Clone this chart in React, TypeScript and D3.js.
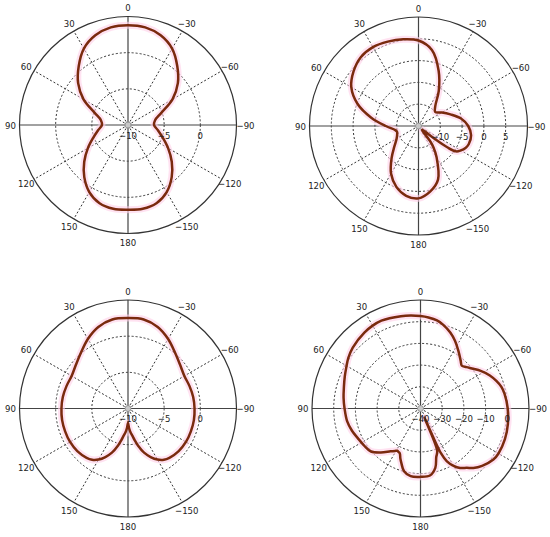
import React from 'react';
import * as d3 from 'd3';

// Angle tick labels (degrees, positive = counter-clockwise from top)
const angleTicks = [0, 30, 60, 90, 120, 150, 180, -150, -120, -90, -60, -30];

// Plot 1 (top-left)
const p1Angles = [-170, -160, -150, -140, -130, -120, -110, -100, -90, -80, -70, -60, -50, -40, -30, -20, -10, 0, 10, 20, 30, 40, 50, 60, 70, 80, 90, 100, 110, 120, 130, 140, 150, 160, 170, 180];
const p1Values = [1.75, 1.5, 0.7, -0.6, -2.1, -3.6, -4.9, -5.8, -6.4, -6.2, -5.1, -2.9, -1.0, 0.6, 2.2, 3.2, 3.7, 3.8, 3.7, 3.2, 2.2, 0.6, -1.0, -2.9, -5.1, -6.2, -6.4, -5.8, -4.9, -3.6, -2.1, -0.6, 0.7, 1.5, 1.75, 1.7];
const p1Rings = [-5, 0];
const p1RingLabels = [-10, -5, 0];

// Plot 2 (top-right)
const p2Angles = [-170, -160, -150, -145, -142.5, -141, -137, -132, -128.5, -126.5, -124, -120, -115, -110, -100, -90, -80, -70, -60, -50, -40, -30, -20, -10, 0, 10, 20, 30, 40, 50, 60, 70, 80, 90, 100, 105, 110, 120, 130, 140, 150, 160, 170, 180];
const p2Values = [0.3, -1.9, -6.7, -9.0, -10.6, -13.5, -13.8, -13.4, -10.5, -6.8, -4.6, -3.8, -3.1, -2.75, -2.75, -3.6, -5.1, -7.2, -8.8, -10.0, -9.0, -5.7, -1.5, 2.7, 4.6, 5.2, 5.6, 5.9, 5.6, 4.45, 2.8, -0.1, -4.0, -7.5, -9.6, -9.9, -9.8, -9.2, -7.8, -5.4, -2.4, -0.15, 1.25, 1.6];
const p2Rings = [-10, -5, 0, 5];
const p2RingLabels = [-10, -5, 0, 5];

// Plot 3 (bottom-left)
const p3Angles = [-177, -174, -171, -168, -165, -160, -155, -150, -145, -140, -130, -120, -110, -100, -90, -80, -70, -60, -50, -40, -30, -20, -10, 0, 10, 20, 30, 40, 50, 60, 70, 80, 90, 100, 110, 120, 130, 140, 145, 150, 155, 160, 165, 168, 171, 174, 177, 180];
const p3Values = [-7.3, -6.7, -6.2, -5.5, -4.7, -3.5, -2.6, -1.85, -1.35, -1.1, -0.85, -0.75, -0.75, -0.75, -0.8, -0.85, -0.95, -1.0, -0.6, 0.1, 1.1, 2.0, 2.5, 2.5, 2.5, 2.0, 1.1, 0.1, -0.6, -1.0, -0.95, -0.85, -0.8, -0.75, -0.75, -0.75, -0.85, -1.1, -1.35, -1.85, -2.6, -3.5, -4.7, -5.5, -6.2, -6.7, -7.3, -8.0];
const p3Rings = [-5, 0];
const p3RingLabels = [-10, -5, 0];

// Plot 4 (bottom-right)
const p4Angles = [-172, -166, -162, -158.5, -156.8, -155.5, -153.4, -150, -146.3, -142, -138.4, -133, -125, -120, -110, -100, -90, -80, -75, -70, -64.5, -58, -53, -48, -44, -40, -33.3, -27, -21.4, -15, -10.6, -5, 0, 6, 12, 24, 30, 36.5, 48, 55, 61, 67, 74, 82, 90, 100, 108, 115, 123, 131, 138, 145, 149, 151.3, 153, 155.3, 158, 160.6, 165.3, 171.7, 180];
const p4Values = [-8.8, -11.8, -16.5, -19.0, -35.5, -17.5, -12.8, -9.5, -7.1, -5.3, -3.3, -1.2, 1.0, 1.5, 1.4, 0.9, 0.2, -0.7, -1.4, -2.8, -4.6, -7.3, -9.6, -11.5, -12.6, -11.2, -8.2, -5.0, -2.4, 0.0, 1.3, 2.1, 2.6, 3.1, 3.5, 4.3, 4.1, 3.5, 2.0, 0.6, -0.9, -2.1, -3.3, -4.2, -5.0, -5.7, -6.8, -8.0, -8.9, -9.8, -12.7, -15.9, -17.2, -17.8, -17.6, -17.2, -15.2, -13.4, -10.1, -8.5, -8.5];
const p4Rings = [-30, -20, -10, 0];
const p4RingLabels = [-40, -30, -20, -10, 0];

const FONT = "'DejaVu Sans Condensed', 'DejaVu Sans', Verdana, sans-serif";

function fmt(v: number) {
  return v < 0 ? '\u2212' + Math.abs(v) : String(v);
}

type PolarProps = {
  cx: number; cy: number; R: number; min: number; max: number;
  rings: number[]; ringLabels: number[]; angles: number[]; values: number[];
};

function Polar({ cx, cy, R, min, max, rings, ringLabels, angles, values }: PolarProps) {
  const r = d3.scaleLinear().domain([min, max]).range([0, R]).clamp(true);
  const pts: [number, number][] = angles.map((a, i) => [a, values[i]]);
  const line = d3
    .lineRadial<[number, number]>()
    .angle((d) => (-d[0] * Math.PI) / 180)
    .radius((d) => r(d[1]))
    .curve(d3.curveCatmullRomClosed.alpha(0.5));
  const path = line(pts) || '';
  const spokes = angleTicks.filter((t) => t % 90 !== 0);
  const labR = R + 9;
  return (
    <g transform={`translate(${cx},${cy})`}>
      {rings.map((v) => (
        <circle key={'r' + v} r={r(v)} fill="none" stroke="#333" strokeWidth={1} strokeDasharray="2,2" />
      ))}
      {spokes.map((t) => {
        const a = (-t * Math.PI) / 180;
        return (
          <line key={'s' + t} x1={0} y1={0} x2={R * Math.sin(a)} y2={-R * Math.cos(a)} stroke="#333" strokeWidth={1} strokeDasharray="2,2" />
        );
      })}
      <line x1={-R} y1={0} x2={R} y2={0} stroke="#444" strokeWidth={1.2} />
      <line x1={0} y1={-R} x2={0} y2={R} stroke="#444" strokeWidth={1.2} />
      <circle r={R} fill="none" stroke="#333" strokeWidth={1.2} />
      <path d={path} fill="none" stroke="#ffcfe8" strokeWidth={7} strokeLinejoin="round" opacity={0.6} />
      <path d={path} fill="none" stroke="#7a2a0e" strokeWidth={2.5} strokeLinejoin="round" />
      <circle r={3} fill="#c8c8c8" stroke="#888" strokeWidth={0.8} />
      {angleTicks.map((t) => {
        const a = (-t * Math.PI) / 180;
        return (
          <text key={'t' + t} x={labR * Math.sin(a)} y={-labR * Math.cos(a)} textAnchor="middle" dominantBaseline="central" fontSize={9.5} fontFamily={FONT} fill="#222">
            {fmt(t)}
          </text>
        );
      })}
      {ringLabels.map((v) => (
        <text key={'l' + v} x={r(v)} y={10} textAnchor="middle" dominantBaseline="central" fontSize={9.5} fontFamily={FONT} fill="#222">
          {fmt(v)}
        </text>
      ))}
    </g>
  );
}

export default function App() {
  return (
    <svg width={550} height={537} style={{ position: 'absolute', left: 0, top: 0, background: '#fff' }}>
      <rect width={550} height={537} fill="#fff" />
      <Polar cx={128} cy={125} R={108.5} min={-10} max={5} rings={p1Rings} ringLabels={p1RingLabels} angles={p1Angles} values={p1Values} />
      <Polar cx={418.5} cy={126} R={109} min={-15} max={10} rings={p2Rings} ringLabels={p2RingLabels} angles={p2Angles} values={p2Values} />
      <Polar cx={128} cy={408.5} R={108.5} min={-10} max={5} rings={p3Rings} ringLabels={p3RingLabels} angles={p3Angles} values={p3Values} />
      <Polar cx={420.5} cy={408.5} R={108.5} min={-40} max={10} rings={p4Rings} ringLabels={p4RingLabels} angles={p4Angles} values={p4Values} />
    </svg>
  );
}
